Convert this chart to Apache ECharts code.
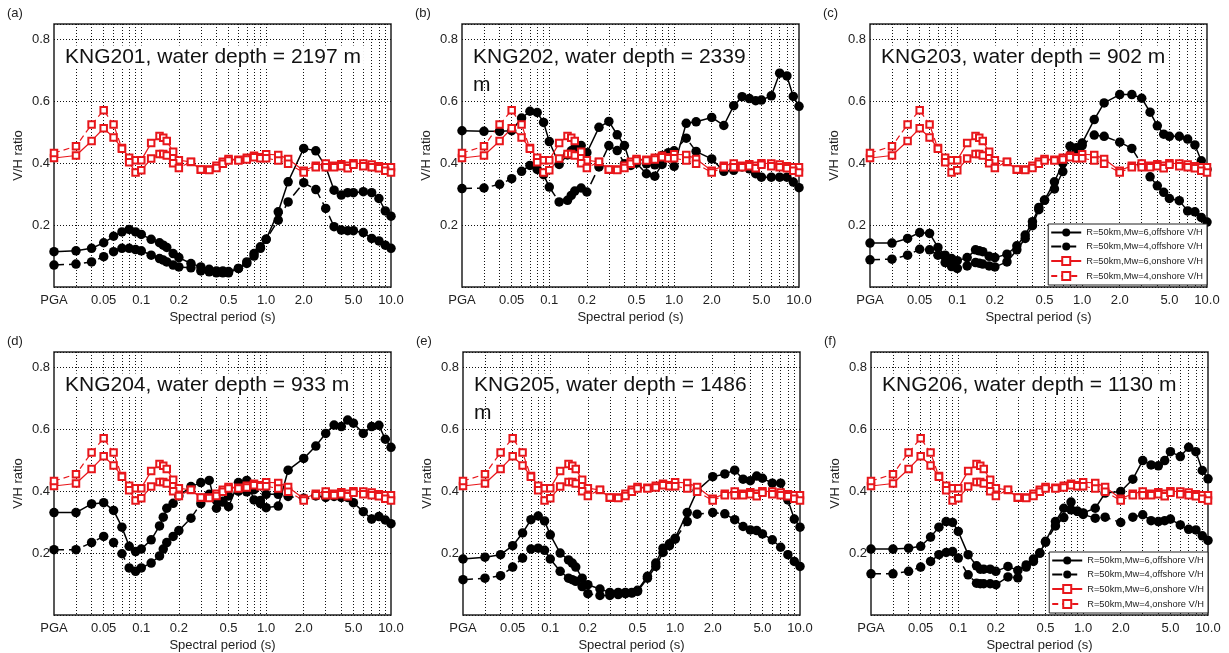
<!DOCTYPE html>
<html>
<head>
<meta charset="utf-8">
<script src="https://cdn.jsdelivr.net/npm/echarts@6/dist/echarts.min.js"></script>
<style>
html,body{margin:0;padding:0;background:#fff;}
#chart{width:1229px;height:653px;}
</style>
</head>
<body>
<div id="chart"></div>
<script>
// Spectral periods (s); PGA is plotted at 0.02 s
const periods = [0.02, 0.03, 0.04, 0.05, 0.06, 0.07, 0.08, 0.09, 0.1, 0.12, 0.14, 0.15, 0.16, 0.18, 0.2,
  0.25, 0.3, 0.35, 0.4, 0.45, 0.5, 0.6, 0.7, 0.8, 0.9, 1.0, 1.25, 1.5, 2.0, 2.5, 3.0, 3.5, 4.0, 4.5, 5.0,
  6.0, 7.0, 8.0, 9.0, 10.0];
const tickPeriods = [0.02, 0.05, 0.1, 0.2, 0.5, 1, 2, 5, 10];
const tickLabels = ['PGA', '0.05', '0.1', '0.2', '0.5', '1.0', '2.0', '5.0', '10.0'];
const gridPeriods = [0.03, 0.04, 0.05, 0.06, 0.07, 0.08, 0.09, 0.1, 0.2, 0.3, 0.4, 0.5, 0.6, 0.7, 0.8, 0.9,
  1, 2, 3, 4, 5, 6, 7, 8, 9];

const seriesNames = ['R=50km,Mw=6,offshore V/H', 'R=50km,Mw=4,offshore V/H',
  'R=50km,Mw=6,onshore V/H', 'R=50km,Mw=4,onshore V/H'];

// onshore V/H (same in every panel)
const onshoreMw6 = [0.417, 0.425, 0.472, 0.513, 0.483, 0.449, 0.418, 0.41, 0.41, 0.465, 0.488, 0.482, 0.472, 0.437, 0.41,
  0.404, 0.379, 0.38, 0.392, 0.405, 0.414, 0.411, 0.418, 0.424, 0.419, 0.429, 0.427, 0.414, 0.376, 0.392, 0.399, 0.392,
  0.397, 0.392, 0.40, 0.399, 0.396, 0.39, 0.387, 0.387];
const onshoreMw4 = [0.433, 0.455, 0.525, 0.571, 0.525, 0.447, 0.403, 0.37, 0.377, 0.415, 0.43, 0.43, 0.425, 0.40, 0.385,
  0.405, 0.38, 0.378, 0.385, 0.398, 0.409, 0.409, 0.412, 0.419, 0.416, 0.416, 0.409, 0.398, 0.37, 0.387, 0.387, 0.387,
  0.39, 0.384, 0.395, 0.39, 0.387, 0.384, 0.376, 0.37];

// offshore V/H per station
const kng201Mw6 = [0.114, 0.117, 0.125, 0.143, 0.164, 0.178, 0.186, 0.178, 0.17, 0.154, 0.143, 0.135, 0.128, 0.108, 0.095,
  0.076, 0.065, 0.057, 0.052, 0.052, 0.05, 0.06, 0.081, 0.108, 0.13, 0.154, 0.243, 0.34, 0.448, 0.44, 0.389, 0.313,
  0.297, 0.305, 0.305, 0.308, 0.305, 0.286, 0.246, 0.229];
const kng201Mw4 = [0.071, 0.074, 0.081, 0.098, 0.114, 0.125, 0.125, 0.121, 0.117, 0.103, 0.092, 0.087, 0.081, 0.071, 0.065,
  0.062, 0.052, 0.049, 0.046, 0.046, 0.046, 0.06, 0.076, 0.1, 0.125, 0.154, 0.216, 0.275, 0.337, 0.315, 0.254, 0.195,
  0.184, 0.182, 0.182, 0.176, 0.157, 0.149, 0.135, 0.125];
const kng202Mw6 = [0.505, 0.503, 0.503, 0.505, 0.546, 0.568, 0.564, 0.532, 0.47, 0.396, 0.427, 0.44, 0.45, 0.457, 0.434,
  0.516, 0.535, 0.492, 0.457, 0.393, 0.40, 0.366, 0.358, 0.396, 0.434, 0.39, 0.529, 0.534, 0.548, 0.522, 0.586, 0.615,
  0.609, 0.602, 0.604, 0.618, 0.691, 0.682, 0.616, 0.584];
const kng202Mw4 = [0.318, 0.32, 0.332, 0.35, 0.374, 0.393, 0.38, 0.363, 0.323, 0.275, 0.28, 0.296, 0.31, 0.32, 0.307,
  0.388, 0.457, 0.441, 0.398, 0.396, 0.409, 0.398, 0.395, 0.425, 0.42, 0.44, 0.481, 0.438, 0.414, 0.374, 0.377, 0.388,
  0.382, 0.366, 0.355, 0.355, 0.355, 0.355, 0.339, 0.321];
const kng203Mw6 = [0.142, 0.142, 0.157, 0.176, 0.173, 0.128, 0.103, 0.092, 0.085, 0.095, 0.12, 0.117, 0.114, 0.099, 0.095,
  0.106, 0.133, 0.168, 0.211, 0.257, 0.281, 0.34, 0.40, 0.455, 0.45, 0.465, 0.541, 0.595, 0.622, 0.622, 0.61, 0.565,
  0.521, 0.494, 0.487, 0.487, 0.478, 0.459, 0.408, 0.38];
const kng203Mw4 = [0.088, 0.09, 0.103, 0.122, 0.12, 0.103, 0.079, 0.066, 0.06, 0.068, 0.079, 0.077, 0.074, 0.068, 0.065,
  0.081, 0.12, 0.157, 0.198, 0.25, 0.28, 0.317, 0.373, 0.424, 0.44, 0.457, 0.491, 0.487, 0.468, 0.448, 0.397, 0.356,
  0.327, 0.306, 0.286, 0.279, 0.246, 0.243, 0.225, 0.21];
const kng204Mw6 = [0.331, 0.331, 0.359, 0.363, 0.338, 0.284, 0.222, 0.205, 0.213, 0.243, 0.288, 0.316, 0.345, 0.361, 0.385,
  0.415, 0.428, 0.435, 0.345, 0.368, 0.35, 0.428, 0.435, 0.372, 0.36, 0.347, 0.352, 0.468, 0.506, 0.546, 0.587, 0.614,
  0.609, 0.63, 0.62, 0.587, 0.609, 0.613, 0.568, 0.542];
const kng204Mw4 = [0.211, 0.211, 0.234, 0.254, 0.234, 0.198, 0.152, 0.141, 0.152, 0.168, 0.191, 0.213, 0.234, 0.254, 0.273,
  0.313, 0.36, 0.39, 0.37, 0.365, 0.385, 0.40, 0.398, 0.405, 0.37, 0.39, 0.39, 0.383, 0.377, 0.385, 0.38, 0.383,
  0.38, 0.38, 0.363, 0.334, 0.31, 0.318, 0.307, 0.295];
const kng205Mw6 = [0.181, 0.187, 0.195, 0.224, 0.265, 0.308, 0.32, 0.304, 0.259, 0.2, 0.178, 0.168, 0.155, 0.119, 0.098,
  0.084, 0.073, 0.073, 0.073, 0.073, 0.08, 0.125, 0.168, 0.216, 0.23, 0.248, 0.331, 0.402, 0.447, 0.456, 0.468, 0.439,
  0.434, 0.449, 0.442, 0.426, 0.426, 0.372, 0.31, 0.284];
const kng205Mw4 = [0.114, 0.119, 0.127, 0.155, 0.184, 0.213, 0.216, 0.209, 0.181, 0.141, 0.119, 0.114, 0.109, 0.092, 0.069,
  0.063, 0.063, 0.066, 0.069, 0.071, 0.076, 0.119, 0.157, 0.202, 0.224, 0.245, 0.302, 0.326, 0.331, 0.327, 0.308, 0.286,
  0.275, 0.273, 0.262, 0.243, 0.219, 0.195, 0.173, 0.157];
const kng206Mw6 = [0.213, 0.213, 0.216, 0.222, 0.252, 0.284, 0.302, 0.299, 0.27, 0.195, 0.159, 0.148, 0.148, 0.148, 0.141,
  0.157, 0.144, 0.162, 0.181, 0.20, 0.238, 0.302, 0.345, 0.34, 0.335, 0.33, 0.345, 0.394, 0.399, 0.439, 0.499, 0.485,
  0.482, 0.499, 0.528, 0.512, 0.542, 0.528, 0.467, 0.44];
const kng206Mw4 = [0.133, 0.133, 0.141, 0.155, 0.173, 0.195, 0.202, 0.205, 0.184, 0.13, 0.103, 0.101, 0.101, 0.101, 0.098,
  0.123, 0.12, 0.155, 0.173, 0.20, 0.235, 0.288, 0.315, 0.365, 0.335, 0.325, 0.313, 0.316, 0.299, 0.316, 0.324, 0.305,
  0.302, 0.305, 0.31, 0.291, 0.277, 0.275, 0.256, 0.241];

const panelLetters = ['(a)', '(b)', '(c)', '(d)', '(e)', '(f)'];
const panelTitles = ['KNG201, water depth = 2197 m', 'KNG202, water depth = 2339\nm', 'KNG203, water depth = 902 m',
  'KNG204, water depth = 933 m', 'KNG205, water depth = 1486\nm', 'KNG206, water depth = 1130 m'];
const offshoreMw6 = [kng201Mw6, kng202Mw6, kng203Mw6, kng204Mw6, kng205Mw6, kng206Mw6];
const offshoreMw4 = [kng201Mw4, kng202Mw4, kng203Mw4, kng204Mw4, kng205Mw4, kng206Mw4];
const legendPanels = [2, 5];

// ---------- layout / styling ----------
const FONT = '"Liberation Sans", Arial, Helvetica, sans-serif';
const gridBoxes = [
  {left: 54, top: 24}, {left: 462, top: 24}, {left: 870, top: 24},
  {left: 54, top: 352}, {left: 463, top: 352}, {left: 871, top: 352}
];
const GW = 337, GH = 263;
const lg = v => Math.log10(v);
const xMin = lg(periods[0]), xMax = lg(periods[periods.length - 1]);
const toPts = vals => periods.map((p, i) => [lg(p), vals[i]]);

const grid = [], xAxis = [], yAxis = [], series = [], title = [], legend = [];
const dotted = {color: '#111', width: 1, type: [1, 2]};

gridBoxes.forEach((g, k) => {
  grid.push({left: g.left, top: g.top, width: GW, height: GH, show: true,
    borderColor: '#222', borderWidth: 1.5, backgroundColor: '#fff', containLabel: false});
  xAxis.push({
    type: 'value', gridIndex: k, min: xMin, max: xMax,
    name: 'Spectral period (s)', nameLocation: 'middle', nameGap: 24,
    nameTextStyle: {fontFamily: FONT, fontSize: 13, color: '#222'},
    axisLine: {show: false},
    axisTick: {show: false, customValues: gridPeriods.map(lg)},
    axisLabel: {
      customValues: tickPeriods.map(lg), margin: 7, fontFamily: FONT, fontSize: 13, color: '#222',
      formatter: v => {
        for (let i = 0; i < tickPeriods.length; i++) {
          if (Math.abs(lg(tickPeriods[i]) - v) < 1e-6) return tickLabels[i];
        }
        return '';
      }
    },
    splitLine: {show: true, lineStyle: dotted}
  });
  yAxis.push({
    type: 'value', gridIndex: k, min: 0, max: 0.85, interval: 0.2,
    name: 'V/H ratio', nameLocation: 'middle', nameGap: 29,
    nameTextStyle: {fontFamily: FONT, fontSize: 13, color: '#222'},
    axisLine: {show: false}, axisTick: {show: false},
    axisLabel: {showMinLabel: false, showMaxLabel: false, margin: 4, fontFamily: FONT, fontSize: 13, color: '#222',
      formatter: v => (v > 0.01 && v < 0.84) ? v.toFixed(1) : ''},
    splitLine: {show: true, lineStyle: dotted}
  });
  const mk = (name, vals, color, dashed, symbol, size, width) => ({
    name, type: 'line', xAxisIndex: k, yAxisIndex: k, data: toPts(vals),
    symbol, symbolSize: size, showSymbol: true, animation: false,
    lineStyle: {color, width, type: dashed ? (color === '#000' ? [10, 5] : [6, 4]) : 'solid'},
    itemStyle: {color, borderColor: color, borderWidth: symbol === 'emptyRect' ? 1 : 0}
  });
  series.push(mk(seriesNames[0], offshoreMw6[k], '#000', false, 'circle', 9.5, 1.5));
  series.push(mk(seriesNames[1], offshoreMw4[k], '#000', true, 'circle', 9.5, 1.5));
  series.push(mk(seriesNames[2], onshoreMw6, '#e8161b', false, 'emptyRect', 6.5, 1.2));
  series.push(mk(seriesNames[3], onshoreMw4, '#e8161b', true, 'emptyRect', 6.5, 1.2));

  // panel letter
  title.push({text: panelLetters[k], left: g.left - 47, top: g.top - 17, padding: 0,
    textStyle: {fontFamily: FONT, fontSize: 13, fontWeight: 'normal', color: '#222'}});
  // station title
  const lines = panelTitles[k].split('\n');
  const txt = lines.map((l, i) => (i === 0 ? '{b|' : '{p|') + l + '}').join('\n');
  title.push({text: txt, left: g.left + 8, top: g.top + 21, padding: 0, z: 10,
    textStyle: {fontWeight: 'normal', rich: {
      b: {fontFamily: FONT, fontSize: 21, fontWeight: 'normal', color: '#111', backgroundColor: '#fff',
        padding: [1, 3, 1, 3], lineHeight: 24},
      p: {fontFamily: FONT, fontSize: 21, fontWeight: 'normal', color: '#111', padding: [4, 3, 0, 3], lineHeight: 28}
    }}});
});

legendPanels.forEach(k => {
  const g = gridBoxes[k];
  legend.push({
    data: seriesNames, orient: 'vertical', right: 1229 - (g.left + GW), top: g.top + GH - 63,
    padding: [4, 4, 4, 2], itemGap: 5, itemWidth: 30, itemHeight: 10,
    borderColor: '#222', borderWidth: 1, backgroundColor: '#fff', z: 10,
    textStyle: {fontFamily: FONT, fontSize: 9.3, color: '#222'}
  });
});

const chart = echarts.init(document.getElementById('chart'), null, {renderer: 'canvas'});
chart.setOption({animation: false, backgroundColor: '#fff', title, grid, xAxis, yAxis, legend, series});
</script>
</body>
</html>
